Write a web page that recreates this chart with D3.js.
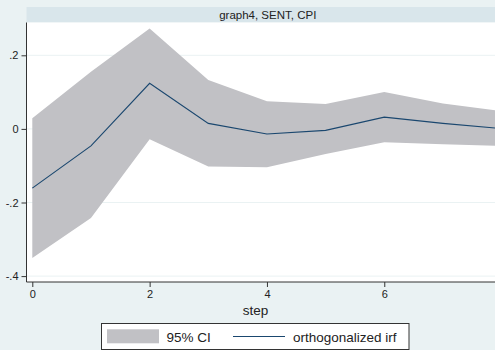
<!DOCTYPE html>
<html>
<head>
<meta charset="utf-8">
<script src="https://cdn.jsdelivr.net/npm/d3@7"></script>
<style>
  html, body { margin: 0; padding: 0; background: #eaf2f3; }
  svg { display: block; font-family: "Liberation Sans", Arial, Helvetica, sans-serif; }
</style>
</head>
<body>
<svg id="chart" width="495" height="350"></svg>
<script>
// Orthogonalized impulse response of CPI to a SENT shock, with 95% CI
const steps = [0, 1, 2, 3, 4, 5, 6, 7, 8];
const irf   = [-0.161, -0.046, 0.124, 0.015, -0.014, -0.004, 0.032, 0.015, 0.001];
const upper = [0.029, 0.155, 0.273, 0.133, 0.075, 0.068, 0.100, 0.069, 0.048];
const lower = [-0.351, -0.242, -0.028, -0.102, -0.104, -0.068, -0.036, -0.042, -0.046];
const xTicks = [0, 2, 4, 6];
const yTicks = [-0.4, -0.2, 0, 0.2];
const yTickLabels = ["-.4", "-.2", "0", ".2"];
const panelTitle = "graph4, SENT, CPI";
const xTitle = "step";
const legendLabels = ["95% CI", "orthogonalized irf"];

const svg = d3.select("#chart");
const W = 495, H = 350;

const plot = { left: 26.5, right: 509, top: 22.5, bottom: 282 };

const x = d3.scaleLinear().domain([0, 8]).range([32.3, 501.6]);
const y = d3.scaleLinear().domain([-0.2, 0.2]).range([202.5, 55.3]);

svg.append("rect").attr("width", W).attr("height", H).attr("fill", "#eaf2f3");

// header strip with panel title
svg.append("rect")
  .attr("x", plot.left).attr("y", 7)
  .attr("width", plot.right - plot.left).attr("height", plot.top - 7)
  .attr("fill", "#d9e6eb");
svg.append("text")
  .attr("x", (plot.left + plot.right) / 2).attr("y", 19)
  .attr("text-anchor", "middle").attr("font-size", 11.5).attr("fill", "#222")
  .text(panelTitle);

// plot area
svg.append("rect")
  .attr("x", plot.left).attr("y", plot.top)
  .attr("width", plot.right - plot.left).attr("height", plot.bottom - plot.top)
  .attr("fill", "#ffffff");

const g = svg.append("g");

// gridlines
g.selectAll("line.grid").data(yTicks).join("line")
  .attr("class", "grid")
  .attr("x1", plot.left).attr("x2", plot.right)
  .attr("y1", d => y(d)).attr("y2", d => y(d))
  .attr("stroke", "#eaf2f3").attr("stroke-width", 1);

const rows = steps.map((s, i) => ({ s, irf: irf[i], lo: lower[i], hi: upper[i] }));

// confidence band
g.append("path").datum(rows)
  .attr("fill", "#c1c1c5")
  .attr("d", d3.area().x(d => x(d.s)).y0(d => y(d.lo)).y1(d => y(d.hi)));

// irf line
g.append("path").datum(rows)
  .attr("fill", "none").attr("stroke", "#1a476f").attr("stroke-width", 1.1)
  .attr("d", d3.line().x(d => x(d.s)).y(d => y(d.irf)));

// y axis
const yAxis = d3.axisLeft(y).tickValues(yTicks).tickSize(5).tickPadding(3)
  .tickFormat((d, i) => yTickLabels[i]);
const ya = svg.append("g").attr("transform", `translate(${plot.left},0)`).call(yAxis);
ya.select(".domain").attr("d", `M0,${plot.top}V${plot.bottom}`).attr("stroke", "#333");
ya.selectAll(".tick line").attr("stroke", "#333");
ya.selectAll(".tick text").attr("font-size", 11).attr("fill", "#222")
  .attr("font-family", "Liberation Sans, Arial, sans-serif");

// x axis
const xAxis = d3.axisBottom(x).tickValues(xTicks).tickSize(5).tickPadding(3)
  .tickFormat(d3.format("d"));
const xa = svg.append("g").attr("transform", `translate(0,${plot.bottom})`).call(xAxis);
xa.select(".domain").attr("d", `M${plot.left},0H${plot.right}`).attr("stroke", "#333");
xa.selectAll(".tick line").attr("stroke", "#333");
xa.selectAll(".tick text").attr("font-size", 11).attr("fill", "#222")
  .attr("font-family", "Liberation Sans, Arial, sans-serif");

svg.append("text")
  .attr("x", 255.5).attr("y", 315)
  .attr("text-anchor", "middle").attr("font-size", 13.5).attr("fill", "#222")
  .text(xTitle);

// legend
const lg = svg.append("g");
lg.append("rect")
  .attr("x", 101.5).attr("y", 323.5).attr("width", 307.5).attr("height", 26)
  .attr("fill", "#ffffff").attr("stroke", "#333").attr("stroke-width", 1);
lg.append("rect")
  .attr("x", 107).attr("y", 329.3).attr("width", 52).attr("height", 14)
  .attr("fill", "#c1c1c5");
lg.append("text")
  .attr("x", 166.5).attr("y", 341.5).attr("font-size", 13.5).attr("fill", "#222")
  .text(legendLabels[0]);
lg.append("line")
  .attr("x1", 233).attr("x2", 285).attr("y1", 336.5).attr("y2", 336.5)
  .attr("stroke", "#1a476f").attr("stroke-width", 1.1);
lg.append("text")
  .attr("x", 293).attr("y", 341.5).attr("font-size", 13.5).attr("fill", "#222")
  .text(legendLabels[1]);
</script>
</body>
</html>
